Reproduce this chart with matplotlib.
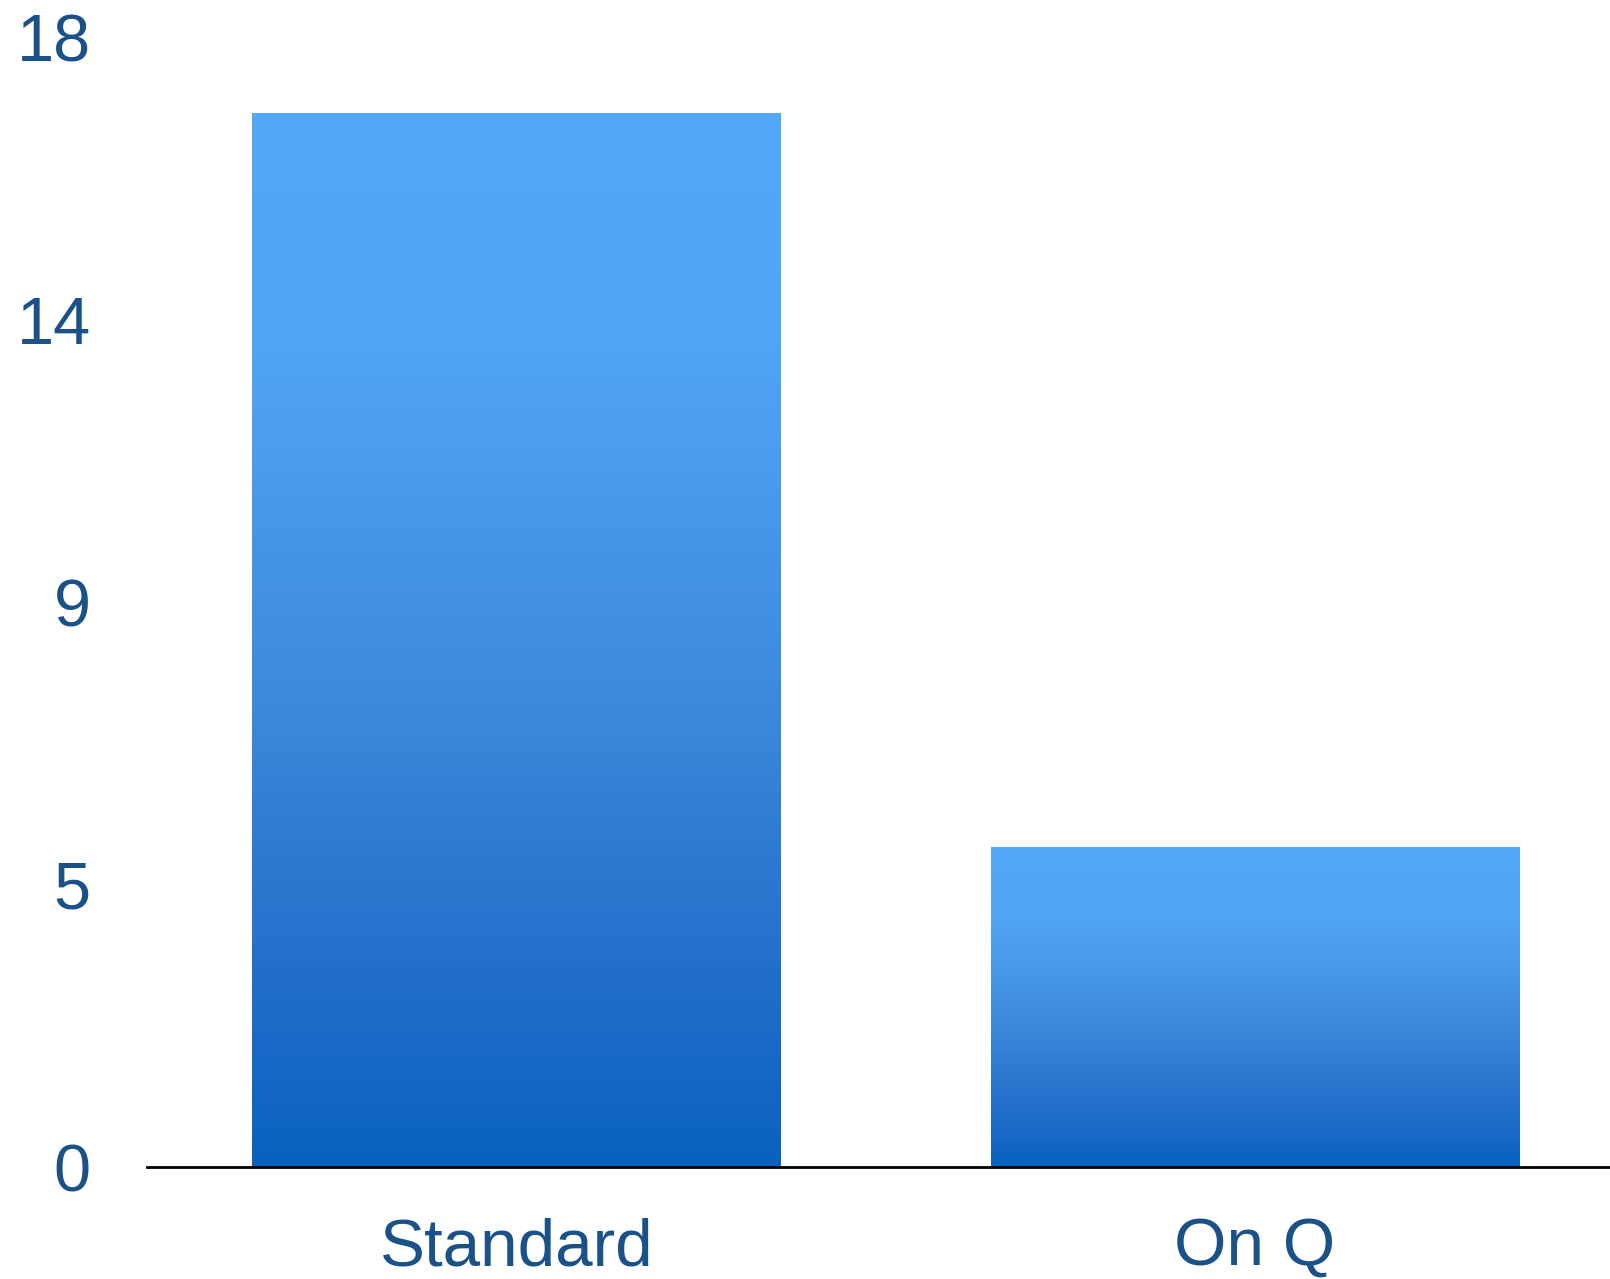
import matplotlib
matplotlib.use('Agg')
import matplotlib.pyplot as plt
import numpy as np
from matplotlib.colors import LinearSegmentedColormap

categories = ['Standard', 'On Q']
values = [16.8, 5.1]
tick_values = [0, 4.5, 9, 13.5, 18]
tick_labels = ['0', '5', '9', '14', '18']

LABEL_COLOR = '#1A5189'

plt.rcParams['font.family'] = ['Liberation Sans', 'DejaVu Sans']

# light at the top, staying light a while, then darkening to the base
grad = LinearSegmentedColormap.from_list(
    'bar_grad',
    [(0.0, '#53A8F8'), (0.22, '#51A5F5'), (0.55, '#3D8ADD'),
     (0.8, '#2470CB'), (1.0, '#0962BF')])

fig = plt.figure(figsize=(16.10, 12.79), dpi=100)
ax = fig.add_axes([147 / 1610, 1 - 1167 / 1279, 1 - 147 / 1610, (1167 - 37.7) / 1279])

x = np.arange(len(categories))
bars = ax.bar(x, values, width=0.715, color='none', edgecolor='none', zorder=2)

ax.set_xlim(-0.5, 1.481)
ax.set_ylim(0, 18)

gradient = np.linspace(0, 1, 256).reshape(-1, 1)
for bar in bars:
    x0, y0 = bar.get_x(), bar.get_y()
    w, h = bar.get_width(), bar.get_height()
    im = ax.imshow(gradient, cmap=grad, aspect='auto',
                   extent=[x0, x0 + w, y0, y0 + h], origin='upper', zorder=2)
    im.set_clip_path(bar)

ax.set_xlim(-0.5, 1.481)
ax.set_ylim(0, 18)

ax.set_yticks(tick_values)
ax.set_yticklabels(tick_labels)
ax.set_xticks(x)
ax.set_xticklabels(categories)

ax.tick_params(axis='y', length=0, pad=40.5, labelsize=48, labelcolor=LABEL_COLOR)
ax.tick_params(axis='x', length=0, pad=36, labelsize=48.5, labelcolor=LABEL_COLOR)

for side in ['top', 'right', 'left']:
    ax.spines[side].set_visible(False)
ax.spines['bottom'].set_color('black')
ax.spines['bottom'].set_linewidth(2)
ax.spines['bottom'].set_zorder(3)

fig.savefig('out.png', dpi=100, facecolor='white')
